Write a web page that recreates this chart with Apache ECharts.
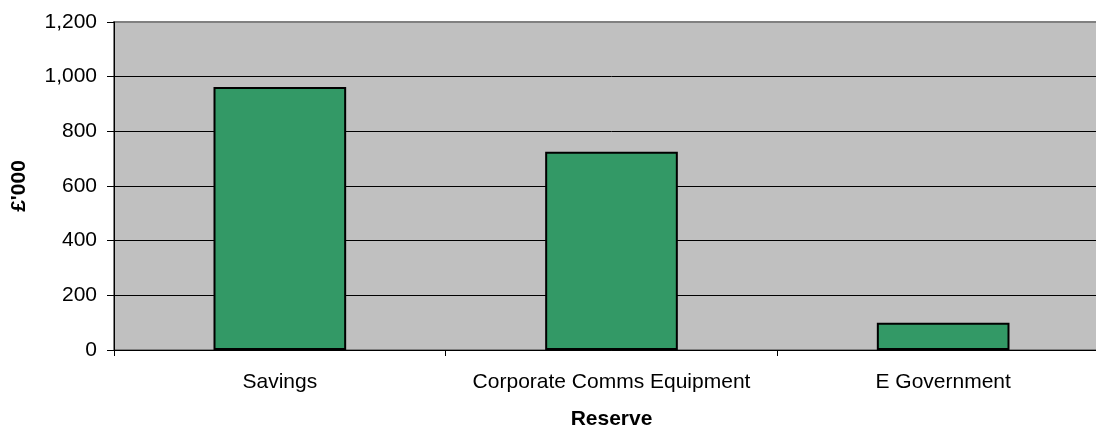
<!DOCTYPE html>
<html>
<head>
<meta charset="utf-8">
<script src="https://cdn.jsdelivr.net/npm/echarts@6/dist/echarts.min.js"></script>
<style>
  html, body { margin: 0; padding: 0; background: #fff; overflow: hidden; width: 1096px; height: 427px; }
  #chart { width: 1112px; height: 427px; }
</style>
</head>
<body>
<div id="chart"></div>
<script>
// Reserve balances in £'000
const categories = ['Savings', 'Corporate Comms Equipment', 'E Government'];
const reserveValues = [962, 725, 100];
const yTicks = { min: 0, max: 1200, interval: 200 };

const FONT = '"Liberation Sans", Arial, sans-serif';

const chart = echarts.init(document.getElementById('chart'), null, { renderer: 'canvas' });

chart.setOption({
  animation: false,
  textStyle: { fontFamily: FONT },
  grid: {
    left: 114,
    top: 22,
    bottom: 77,
    right: 3,
    containLabel: false,
    outerBoundsMode: 'none',
    show: true,
    backgroundColor: '#C0C0C0',
    borderColor: '#808080',
    borderWidth: 2
  },
  xAxis: {
    type: 'category',
    data: categories,
    name: 'Reserve',
    nameLocation: 'middle',
    nameGap: 59,
    nameTextStyle: { fontFamily: FONT, fontSize: 21, fontWeight: 'bold', color: '#000' },
    axisLine: { show: true, lineStyle: { color: '#000', width: 1 } },
    axisTick: { show: true, length: 6, lineStyle: { color: '#000' } },
    axisLabel: { fontFamily: FONT, fontSize: 21, color: '#000', margin: 22, interval: 0 }
  },
  yAxis: {
    type: 'value',
    min: yTicks.min,
    max: yTicks.max,
    interval: yTicks.interval,
    name: "£'000",
    nameLocation: 'middle',
    nameGap: 84,
    nameRotate: 90,
    nameTextStyle: { fontFamily: FONT, fontSize: 21, fontWeight: 'bold', color: '#000' },
    axisLine: { show: true, lineStyle: { color: '#000', width: 1 } },
    axisTick: { show: true, length: 7, lineStyle: { color: '#000' } },
    axisLabel: {
      fontFamily: FONT, fontSize: 21, color: '#000', margin: 17,
      formatter: v => v.toLocaleString('en-US')
    },
    splitLine: {
      show: true,
      lineStyle: { color: ['#000', '#000', '#000', '#000', '#000', '#000', '#808080'], width: 1 }
    }
  },
  series: [{
    type: 'bar',
    data: reserveValues,
    barWidth: '40%',
    itemStyle: { color: '#339966', borderColor: '#000', borderWidth: 2 }
  }]
});
</script>
</body>
</html>
